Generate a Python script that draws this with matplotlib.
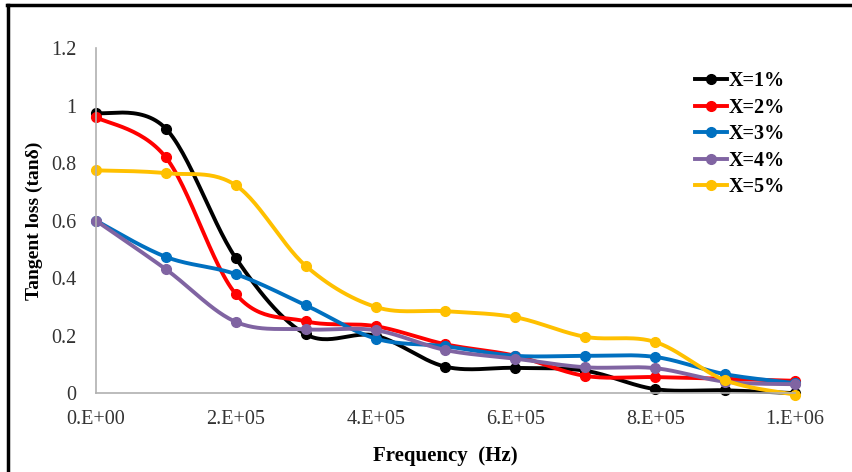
import numpy as np
import matplotlib.pyplot as plt
from matplotlib.lines import Line2D

# frequency points (Hz)
freq = np.arange(0, 1.01e6, 1e5)

# tangent loss for each composition
tan_x1 = [0.975, 0.92, 0.47, 0.205, 0.20, 0.092, 0.088, 0.078, 0.014, 0.010, 0.0]
tan_x2 = [0.96, 0.82, 0.345, 0.25, 0.233, 0.17, 0.13, 0.06, 0.056, 0.05, 0.043]
tan_x3 = [0.60, 0.474, 0.414, 0.306, 0.19, 0.163, 0.13, 0.13, 0.126, 0.066, 0.035]
tan_x4 = [0.60, 0.431, 0.248, 0.222, 0.219, 0.15, 0.12, 0.09, 0.087, 0.04, 0.031]
tan_x5 = [0.775, 0.765, 0.723, 0.443, 0.30, 0.285, 0.264, 0.196, 0.178, 0.045, -0.005]

labels = ['X=1%', 'X=2%', 'X=3%', 'X=4%', 'X=5%']
colors = ['#000000', '#ff0000', '#0070c0', '#8064a2', '#ffc000']
series = [tan_x1, tan_x2, tan_x3, tan_x4, tan_x5]


def smooth(x, y, n=30):
    # excel style smoothed line: bezier segments with catmull-rom control points
    x = np.asarray(x, float)
    y = np.asarray(y, float)
    xs, ys = [], []
    t = np.linspace(0, 1, n)
    for i in range(len(x) - 1):
        p0 = np.array([x[max(i - 1, 0)], y[max(i - 1, 0)]])
        p1 = np.array([x[i], y[i]])
        p2 = np.array([x[i + 1], y[i + 1]])
        p3 = np.array([x[min(i + 2, len(x) - 1)], y[min(i + 2, len(x) - 1)]])
        c1 = p1 + (p2 - p0) / 6
        c2 = p2 - (p3 - p1) / 6
        pts = ((1 - t) ** 3)[:, None] * p1 + (3 * (1 - t) ** 2 * t)[:, None] * c1 \
            + (3 * (1 - t) * t ** 2)[:, None] * c2 + (t ** 3)[:, None] * p2
        xs.extend(pts[:, 0])
        ys.extend(pts[:, 1])
    return xs, ys


plt.rcParams['font.family'] = 'Liberation Serif'

fig = plt.figure(figsize=(8.53, 4.72), dpi=100)
ax = fig.add_axes([0.1125, 0.167, 0.8195, 0.731])

for y, c in zip(series, colors):
    sx, sy = smooth(freq, y)
    ax.plot(sx, sy, color=c, lw=2.8, solid_capstyle='round', clip_on=False)
    ax.plot(freq, y, 'o', color=c, ms=7, clip_on=False)

ax.set_xlim(0, 1e6)
ax.set_ylim(0, 1.2)
ax.set_xticks(np.arange(0, 1.01e6, 2e5))
ax.set_xticklabels(['0.E+00', '2.E+05', '4.E+05', '6.E+05', '8.E+05', '1.E+06'])
ax.set_yticks(np.arange(0, 1.21, 0.2))
ax.set_yticklabels(['0', '0.2', '0.4', '0.6', '0.8', '1', '1.2'])
ax.tick_params(axis='x', length=0, labelsize=14.5, colors='#333333', pad=12)
ax.tick_params(axis='y', length=0, labelsize=14.5, colors='#333333', pad=14)
for s in ['top', 'right']:
    ax.spines[s].set_visible(False)
for s in ['left', 'bottom']:
    ax.spines[s].set_color('#b0b0b0')
    ax.spines[s].set_linewidth(1.2)

ax.set_xlabel('Frequency  (Hz)', fontsize=15, fontweight='bold', labelpad=12)
ax.set_ylabel('Tangent loss (tanδ)', fontsize=14, fontweight='bold', labelpad=6)

handles = [Line2D([], [], color=c, lw=2.8, marker='o', ms=7) for c in colors]
leg = ax.legend(handles, labels, loc='upper right', bbox_to_anchor=(1.012, 0.985),
                frameon=False, handlelength=1.6, handletextpad=0.1,
                labelspacing=0.32, prop={'weight': 'bold', 'size': 14.5})

# outer frame (top and left edges)
fig.add_artist(Line2D([0.008, 1.0], [0.989, 0.989], color='black', lw=2.5))
fig.add_artist(Line2D([0.009, 0.009], [0.0, 0.989], color='black', lw=2.5))

plt.savefig('out.png', dpi=100)
